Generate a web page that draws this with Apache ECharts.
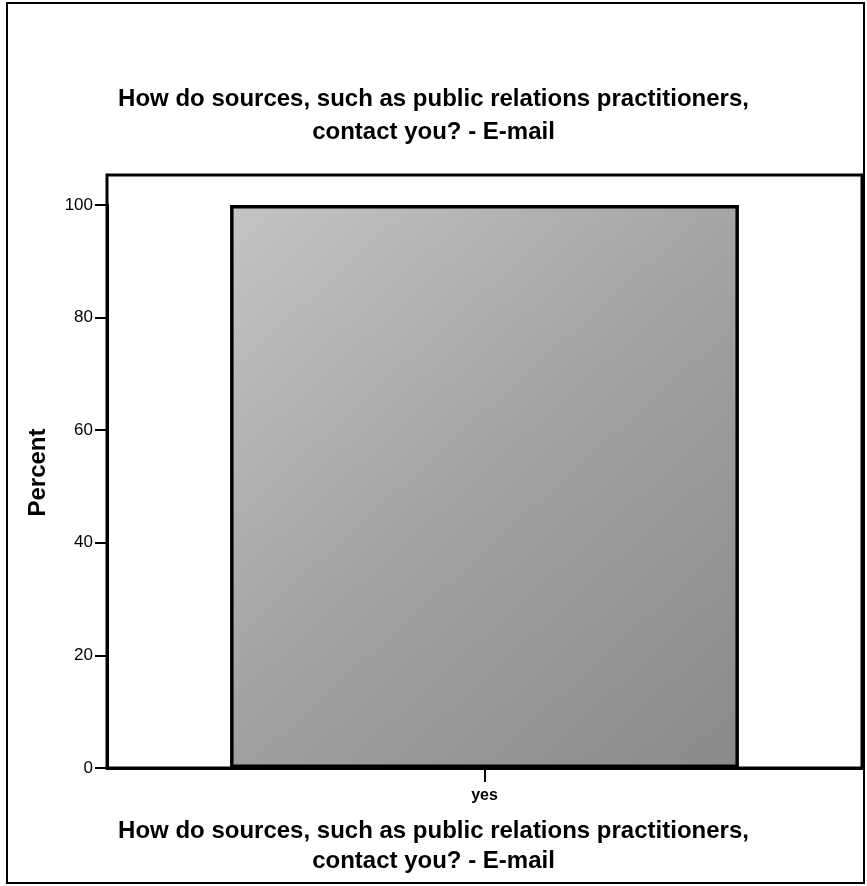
<!DOCTYPE html>
<html>
<head>
<meta charset="utf-8">
<script src="https://cdn.jsdelivr.net/npm/echarts@6/dist/echarts.min.js"></script>
<style>html,body{margin:0;padding:0;background:#fff}#c{width:867px;height:886px}</style>
</head>
<body>
<div id="c"></div>
<script>
const categories = ['yes'];
const percentValues = [100];
const yTicks = [0, 20, 40, 60, 80, 100];
const titleText = 'How do sources, such as public relations practitioners,\ncontact you? - E-mail';
const xAxisTitle = 'How do sources, such as public relations practitioners,\ncontact you? - E-mail';
const yAxisTitle = 'Percent';

const chart = echarts.init(document.getElementById('c'), null, {renderer: 'canvas'});
const font = '"Liberation Sans", Arial, sans-serif';
chart.setOption({
  backgroundColor: '#fff',
  animation: false,
  title: [
    {text: titleText, left: 'center', top: 78,
     textStyle: {fontFamily: font, fontWeight: 'bold', fontSize: 24, lineHeight: 33, color: '#000'}},
    {text: xAxisTitle, left: 'center', top: 811,
     textStyle: {fontFamily: font, fontWeight: 'bold', fontSize: 24, lineHeight: 30, color: '#000'}}
  ],
  graphic: [
    {type: 'rect', shape: {x: 7, y: 3, width: 857, height: 880},
     style: {fill: 'none', stroke: '#000', lineWidth: 2}, silent: true, z: 10},
    {type: 'rect', shape: {x: 107, y: 175, width: 755, height: 593},
     style: {fill: 'none', stroke: '#000', lineWidth: 3}, silent: true, z: 10}
  ],
  grid: {left: 107, right: 5, top: 205, bottom: 118, show: false},
  xAxis: {
    type: 'category', data: categories,
    axisLine: {show: true, lineStyle: {color: '#000', width: 3}},
    axisTick: {show: true, alignWithLabel: true, length: 14, lineStyle: {color: '#000', width: 2}},
    axisLabel: {fontFamily: font, fontWeight: 'bold', fontSize: 16, color: '#000', margin: 20}
  },
  yAxis: {
    type: 'value', min: 0, max: 100, interval: 20,
    name: yAxisTitle, nameLocation: 'middle', nameGap: 57,
    nameTextStyle: {fontFamily: font, fontWeight: 'bold', fontSize: 24, color: '#000',
                    padding: [0, 0, 0, 28]},
    axisLine: {show: true, lineStyle: {color: '#000', width: 3}},
    axisTick: {show: true, length: 12, lineStyle: {color: '#000', width: 2}},
    axisLabel: {fontFamily: font, fontSize: 17, color: '#000', margin: 14,
                formatter: v => yTicks.includes(v) ? String(v) : ''},
    splitLine: {show: false}
  },
  series: [{
    type: 'bar', data: percentValues, barWidth: '67.4%',
    itemStyle: {
      color: new echarts.graphic.LinearGradient(0, 0, 1, 1, [
        {offset: 0, color: '#c4c4c4'},
        {offset: 0.5, color: '#a2a2a2'},
        {offset: 1, color: '#8a8a8a'}
      ]),
      borderColor: '#000', borderWidth: 3.5
    }
  }]
});
</script>
</body>
</html>
